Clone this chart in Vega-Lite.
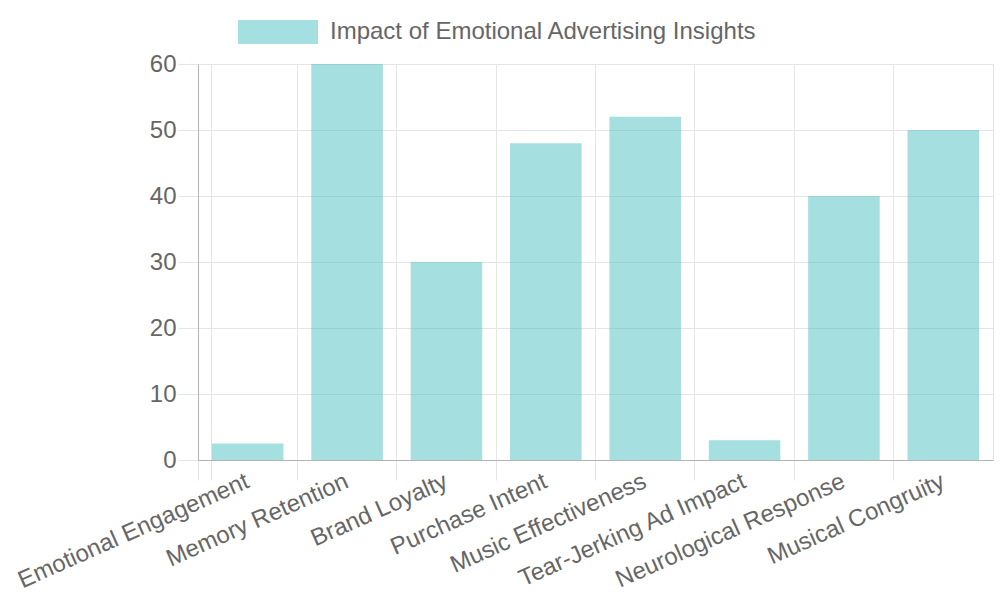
{
  "$schema": "https://vega.github.io/schema/vega-lite/v6.json",
  "width": 795,
  "height": 396,
  "autosize": "none",
  "padding": {"left": 198, "top": 64, "right": 7, "bottom": 140},
  "background": "white",
  "data": {
    "values": [
      {"category": "Emotional Engagement", "value": 2.5},
      {"category": "Memory Retention", "value": 60},
      {"category": "Brand Loyalty", "value": 30},
      {"category": "Purchase Intent", "value": 48},
      {"category": "Music Effectiveness", "value": 52},
      {"category": "Tear-Jerking Ad Impact", "value": 3},
      {"category": "Neurological Response", "value": 40},
      {"category": "Musical Congruity", "value": 50}
    ]
  },
  "mark": {"type": "bar", "fillOpacity": 0.5},
  "encoding": {
    "x": {
      "field": "category",
      "type": "nominal",
      "sort": null,
      "title": null,
      "scale": {"paddingInner": 0.28, "paddingOuter": 0.14},
      "axis": {
        "bandPosition": -0.19444,
        "tickExtra": true,
        "labelAngle": -24,
        "labelAlign": "right",
        "labelBaseline": "middle",
        "labelPadding": 0,
        "labelLimit": 0,
        "tickSize": 20,
        "tickColor": "#e5e5e5",
        "gridColor": "#e5e5e5",
        "grid": true,
        "domainColor": "#b3b3b3"
      }
    },
    "y": {
      "field": "value",
      "type": "quantitative",
      "title": null,
      "scale": {"domain": [0, 60], "nice": false},
      "axis": {
        "values": [0, 10, 20, 30, 40, 50, 60],
        "tickSize": 20,
        "labelPadding": 2,
        "tickColor": "#e5e5e5",
        "gridColor": "#e5e5e5",
        "domainColor": "#b3b3b3"
      }
    },
    "color": {
      "datum": "Impact of Emotional Advertising Insights",
      "scale": {"range": ["rgb(75,192,192)"]},
      "legend": {
        "title": null,
        "orient": "none",
        "legendX": 40,
        "legendY": -72,
        "symbolType": "M-1,-0.3H1V0.3H-1Z",
        "symbolSize": 6400,
        "symbolOpacity": 0.5,
        "symbolStrokeWidth": 0,
        "labelFontSize": 24,
        "labelColor": "#666666",
        "labelFont": "Liberation Sans",
        "labelOffset": 12,
        "labelLimit": 0
      }
    }
  },
  "config": {
    "view": {"stroke": "#e5e5e5"},
    "axis": {
      "labelFont": "Liberation Sans",
      "labelFontSize": 24,
      "labelColor": "#666666",
      "domainWidth": 1,
      "gridWidth": 1
    }
  }
}
